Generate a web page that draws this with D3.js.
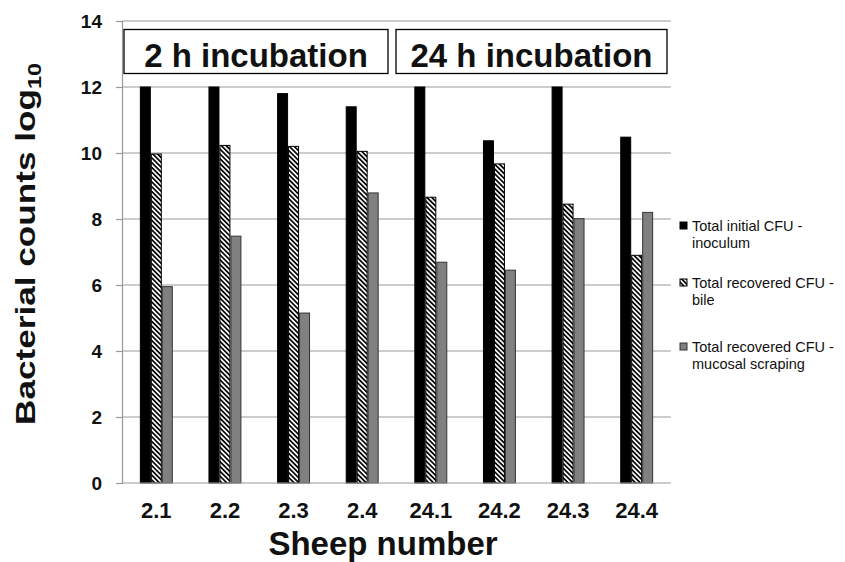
<!DOCTYPE html>
<html><head><meta charset="utf-8">
<script src="https://cdn.jsdelivr.net/npm/d3@7"></script>
<style>body{margin:0;background:#fff}svg{display:block}</style>
</head><body>
<script>
const categories = ["2.1","2.2","2.3","2.4","24.1","24.2","24.3","24.4"];
const seriesNames = ["Total initial CFU - inoculum","Total recovered CFU - bile","Total recovered CFU - mucosal scraping"];
const legendLines = [["Total initial CFU -","inoculum"],["Total recovered CFU -","bile"],["Total recovered CFU -","mucosal scraping"]];
const inoculum = [12.0, 12.0, 11.8, 11.4, 12.0, 10.37, 12.0, 10.48];
const bile     = [9.97, 10.23, 10.2, 10.05, 8.66, 9.67, 8.45, 6.9];
const mucosal  = [5.95, 7.48, 5.15, 8.79, 6.69, 6.45, 8.01, 8.2];
const yTicks = [0,2,4,6,8,10,12,14];
const groups = [{label:"2 h incubation", from:"2.1", to:"2.4"},{label:"24 h incubation", from:"24.1", to:"24.4"}];

const W=845,H=562;
const m={left:122,right:174,top:21,bottom:79};
const font="'Liberation Sans', Arial, sans-serif";
const svg=d3.select("body").append("svg").attr("width",W).attr("height",H);
const defs=svg.append("defs");
const pat=defs.append("pattern").attr("id","hatch").attr("patternUnits","userSpaceOnUse")
  .attr("width",3.4).attr("height",3.4).attr("patternTransform","rotate(45)");
pat.append("rect").attr("width",3.4).attr("height",3.4).attr("fill","#fff");
pat.append("line").attr("x1",0).attr("y1",0.9).attr("x2",3.4).attr("y2",0.9).attr("stroke","#000").attr("stroke-width",1.7);

const x=d3.scaleBand().domain(categories).range([m.left,W-m.right]).paddingInner(0).paddingOuter(0);
const y=d3.scaleLinear().domain([0,14]).range([H-m.bottom,m.top]);
const groupW=x.bandwidth()*0.48;
const xs=d3.scaleBand().domain([0,1,2]).range([0,groupW]);

// gridlines
svg.append("g").selectAll("line").data(yTicks.filter(t=>t>0)).join("line")
  .attr("x1",m.left).attr("x2",W-m.right).attr("y1",d=>y(d)).attr("y2",d=>y(d))
  .attr("stroke","#999").attr("stroke-width",1.2);

// y axis
const ya=svg.append("g").attr("transform",`translate(${m.left},0)`)
  .call(d3.axisLeft(y).tickValues(yTicks).tickSize(6).tickPadding(14));
ya.select(".domain").attr("stroke","#999").attr("stroke-width",1.2);
ya.selectAll(".tick line").attr("stroke","#999").attr("stroke-width",1.2);
ya.selectAll(".tick text").attr("font-family",font).attr("font-weight","bold").attr("font-size",19).attr("fill","#111");

// bars
const series=[
  {vals:inoculum, fill:"#000", stroke:"#000"},
  {vals:bile, fill:"url(#hatch)", stroke:"#000"},
  {vals:mucosal, fill:"#808080", stroke:"#333"}
];
series.forEach((s,i)=>{
  svg.append("g").selectAll("rect").data(categories).join("rect")
    .attr("x",c=>x(c)+(x.bandwidth()-groupW)/2+xs(i)+0.5)
    .attr("width",xs.bandwidth()-1)
    .attr("y",(c,j)=>y(s.vals[j]))
    .attr("height",(c,j)=>y(0)-y(s.vals[j]))
    .attr("fill",s.fill).attr("stroke",s.stroke).attr("stroke-width",1);
});

// x axis baseline
svg.append("line").attr("x1",m.left).attr("x2",W-m.right).attr("y1",y(0)).attr("y2",y(0))
  .attr("stroke","#999").attr("stroke-width",1.2);
const xa=svg.append("g").attr("transform",`translate(0,${y(0)})`)
  .call(d3.axisBottom(x).tickSize(0).tickPadding(19));
xa.select(".domain").remove();
xa.selectAll(".tick text").attr("font-family",font).attr("font-weight","bold").attr("font-size",22).attr("fill","#111");

// group boxes
groups.forEach((g,i)=>{
  const x0=i===0?124:396, x1=i===0?388:667;
  svg.append("rect").attr("x",x0).attr("y",29.5).attr("width",x1-x0).attr("height",44)
    .attr("fill","#fff").attr("stroke","#000").attr("stroke-width",1.3);
  svg.append("text").attr("x",(x0+x1)/2).attr("y",67).attr("text-anchor","middle")
    .attr("font-family",font).attr("font-weight","bold").attr("font-size",33).attr("fill","#111").text(g.label);
});

// axis titles
svg.append("text").attr("x",383).attr("y",555).attr("text-anchor","middle")
  .attr("font-family",font).attr("font-weight","bold").attr("font-size",33).attr("fill","#111").text("Sheep number");
const yt=svg.append("text").attr("transform","translate(35,244) rotate(-90)").attr("text-anchor","middle")
  .attr("font-family",font).attr("font-weight","bold").attr("font-size",27).attr("fill","#111")
  .attr("textLength",362).attr("lengthAdjust","spacingAndGlyphs");
yt.append("tspan").text("Bacterial counts log");
yt.append("tspan").attr("font-size",18).attr("dy",6).text("10");

// legend
const ly=[231,288,352];
series.forEach((s,i)=>{
  svg.append("rect").attr("x",680).attr("y",ly[i]-9).attr("width",7).attr("height",7)
    .attr("fill",s.fill).attr("stroke",s.stroke).attr("stroke-width",1);
  const t=svg.append("text").attr("font-family",font).attr("font-size",14.5).attr("fill","#111");
  legendLines[i].forEach((ln,k)=>t.append("tspan").attr("x",692).attr("y",ly[i]+k*17).text(ln));
});
</script>
</body></html>
